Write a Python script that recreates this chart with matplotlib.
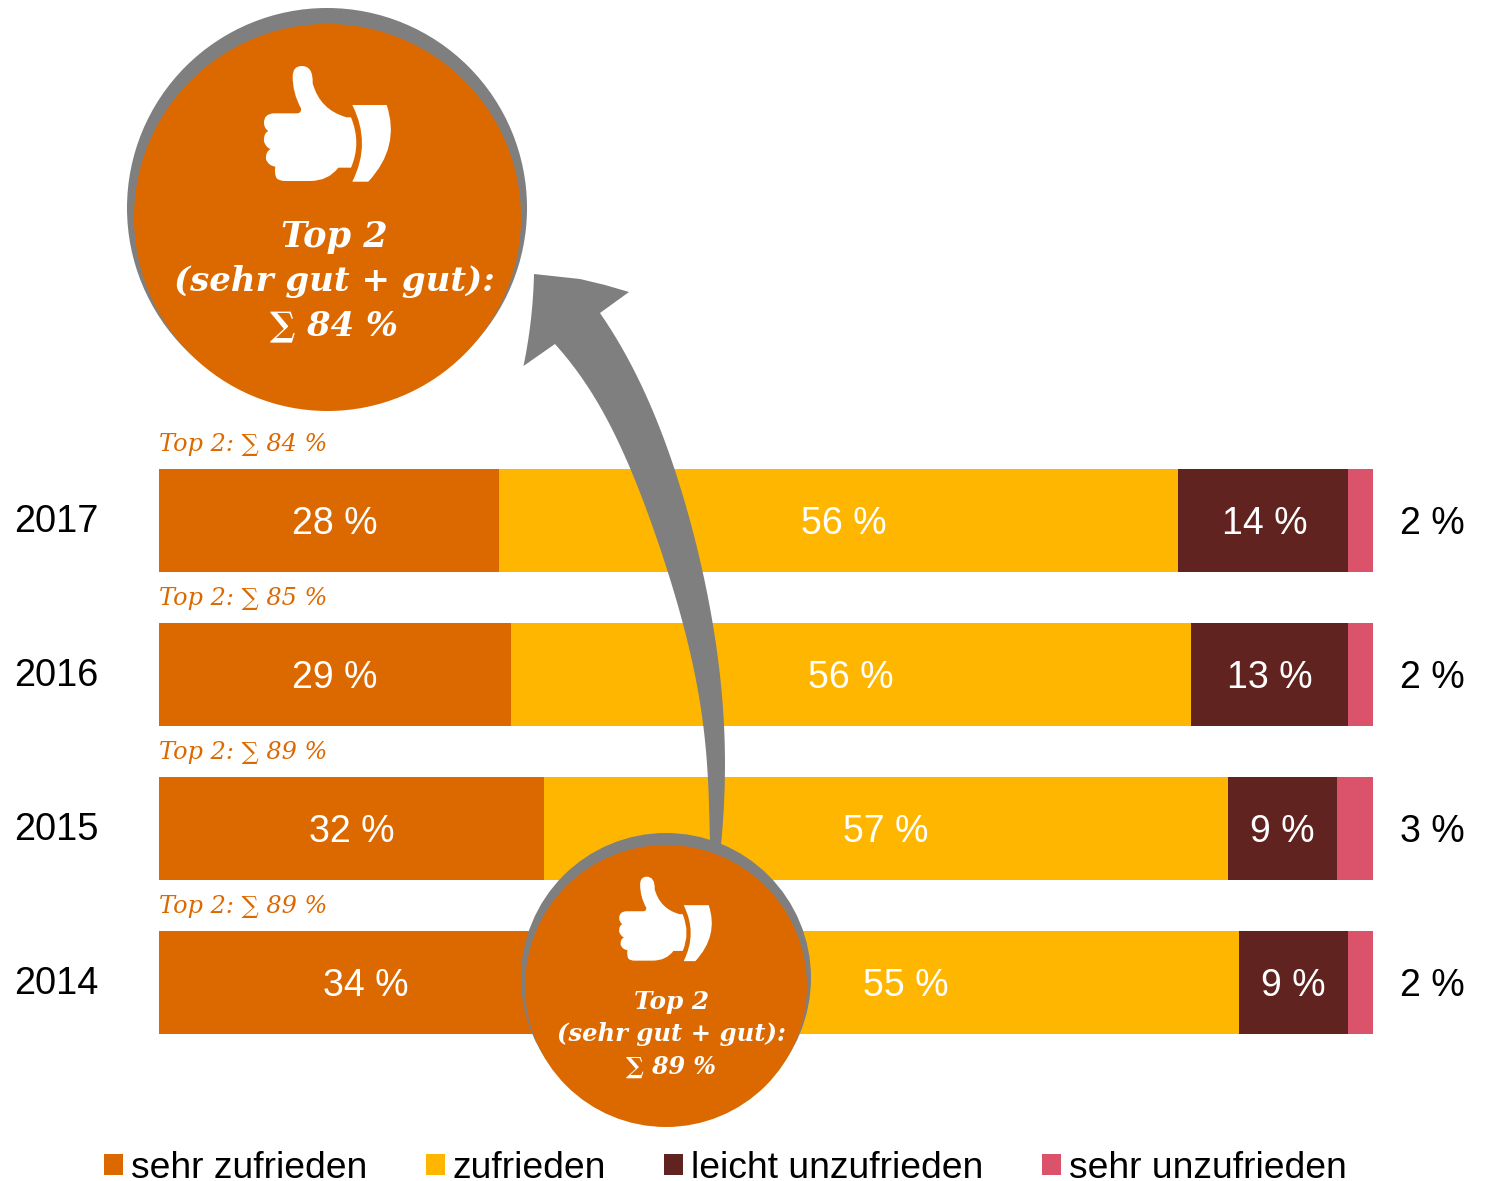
import matplotlib
matplotlib.use("Agg")
import matplotlib.pyplot as plt
import matplotlib.transforms as mtrans
import numpy as np
from matplotlib.patches import Circle, PathPatch, Polygon
from matplotlib.path import Path

W, H = 1488, 1181

years = ["2017", "2016", "2015", "2014"]
categories = ["sehr zufrieden", "zufrieden", "leicht unzufrieden", "sehr unzufrieden"]
sehr_zufrieden = [28, 29, 32, 34]
zufrieden = [56, 56, 57, 55]
leicht_unzufrieden = [14, 13, 9, 9]
sehr_unzufrieden = [2, 2, 3, 2]
top2 = [84, 85, 89, 89]
colors = ["#DC6900", "#FFB600", "#602320", "#DB536A"]
GRAY = "#7F7F7F"
ORANGE = "#DC6900"

SANS = ["Liberation Sans", "DejaVu Sans"]
SERIF = ["DejaVu Serif"]
M, C, L = Path.MOVETO, Path.CURVE3, Path.LINETO
PT = 0.72  # points per pixel at dpi 100

# small shifts of the value labels, in pixels, rows follow the years
nudge = [[6, 5, 1], [-1, 0, 0], [0, 0, 0], [0, 0, 0]]


def hand_paths():
    # thumb and cuff outlines, in pixels of the big circle
    thumb = [
        (M, 545, 198), (C, 518, 198), (C, 518, 230), (C, 518, 280), (C, 543, 325),
        (C, 545, 340), (C, 530, 340), (L, 460, 340), (C, 432, 342), (C, 432, 368),
        (C, 432, 385), (C, 445, 393), (C, 430, 400), (C, 432, 425), (C, 440, 445),
        (C, 452, 447), (C, 436, 455), (C, 438, 478), (C, 445, 497), (C, 466, 500),
        (C, 462, 520), (C, 470, 535), (C, 478, 543), (C, 495, 543), (L, 570, 543),
        (C, 625, 543), (C, 655, 503), (L, 693, 503), (C, 725, 430), (C, 693, 352),
        (L, 680, 352), (C, 600, 330), (C, 578, 250), (C, 580, 198), (C, 545, 198),
    ]
    cuff = [
        (M, 697, 315), (L, 800, 315), (C, 842, 440), (C, 745, 545), (L, 697, 545),
        (C, 755, 430), (C, 697, 315),
    ]
    out = []
    for shape in (thumb, cuff):
        codes = [s[0] for s in shape]
        pts = np.array([[120 + s[1] / 3, s[2] / 3] for s in shape])
        out.append((pts, codes))
    return out


def edge(points, y0, y1, deg=5):
    # smooth outline of one side of the arrow
    pts = np.array(points, dtype=float)
    fit = np.polynomial.Polynomial.fit(pts[:, 1], pts[:, 0], deg)
    ys = np.linspace(y0, y1, 60)
    return np.column_stack([fit(ys), ys])


def draw_badge(ax, gray_c, gray_r, c, r, value, scale, hand_at, sizes, text_ys, text_x):
    ax.add_patch(Circle(gray_c, gray_r, fc=GRAY, ec="none", zorder=5))
    ax.add_patch(Circle(c, r, fc=ORANGE, ec="none", zorder=6))
    for pts, codes in hand_paths():
        p = (pts - np.array([301.7, 66.0])) * scale + np.array(hand_at)
        ax.add_patch(PathPatch(Path(p, codes), fc="white", ec="none", zorder=7))
    lines = ["Top 2", "(sehr gut + gut):", f"∑ {value} %"]
    for line, y, s in zip(lines, text_ys, sizes):
        ax.text(text_x, y, line, color="white", fontsize=s, family=SERIF, style="italic",
                weight="bold", ha="center", va="center", zorder=8)


fig = plt.figure(figsize=(W / 100, H / 100), dpi=100)
ax = fig.add_axes([159.4 / W, 1 - 1059.5 / H, 1213.2 / W, 616 / H])

data = np.array([sehr_zufrieden, zufrieden, leicht_unzufrieden, sehr_unzufrieden], dtype=float)
shares = data / data.sum(axis=0)
ypos = np.arange(len(years))
left = np.zeros(len(years))
for k, name in enumerate(categories):
    ax.barh(ypos, shares[k], left=left, height=103 / 154, color=colors[k], label=name)
    for i in ypos:
        if k < 3:
            ax.annotate(f"{int(data[k][i])} %", (left[i] + shares[k][i] / 2, i),
                        xytext=(nudge[i][k] * PT, -3.5 * PT),
                        textcoords="offset points", ha="center", va="center",
                        color="white", fontsize=27, family=SANS)
        else:
            ax.annotate(f"{int(data[k][i])} %", (1, i), xytext=(59.5 * PT, -3.5 * PT),
                        textcoords="offset points", ha="center", va="center",
                        color="black", fontsize=27, family=SANS)
    left += shares[k]

for i in ypos:
    ax.annotate(f"Top 2: ∑ {top2[i]} %", (0, i), xytext=(0, 75.5 * PT), textcoords="offset points",
                ha="left", va="center", color=ORANGE, fontsize=17.3, family=SERIF, style="italic")

ax.set_xlim(0, 1)
ax.set_ylim(3.5, -0.5)
ax.set_xticks([])
ax.set_yticks(ypos, years, fontsize=27.4, family=SANS)
ax.tick_params(axis="y", length=0, pad=44)
lift = mtrans.ScaledTranslation(0, 2 / 100, fig.dpi_scale_trans)
for lab in ax.get_yticklabels():
    lab.set_transform(lab.get_transform() + lift)
for s in ax.spines.values():
    s.set_visible(False)

handles, labels = ax.get_legend_handles_labels()
fig.legend(handles, labels, ncol=4, frameon=False, loc="lower left",
           bbox_to_anchor=(104 / W, 1 - 1186 / H), prop={"family": SANS, "size": 26.85},
           borderpad=0, borderaxespad=0, handlelength=0.51, handleheight=0.5,
           handletextpad=0.21, columnspacing=1.57)

# overlay in pixel coordinates for the arrow and the two badges
over = fig.add_axes([0, 0, 1, 1])
over.set_xlim(0, W)
over.set_ylim(H, 0)
over.axis("off")

right_edge = [(721, 845), (725, 763), (724, 725), (712, 620), (703, 572), (683, 498), (675, 469),
              (648, 400), (645, 393), (600, 313)]
left_edge = [(555, 344), (595, 400), (605, 413), (630, 469), (642, 498), (668, 572), (682, 620),
             (703, 725), (708, 777), (710, 845)]
head_right = [(629, 292), (605, 285), (580, 279), (534, 274)]
head_left = [(534, 274), (530, 327), (523.5, 366)]
outline = np.vstack([edge(right_edge, 845, 313), head_right,
                     edge(head_left, 274, 366, deg=2), edge(left_edge, 344, 845)])
over.add_patch(Polygon(outline, closed=True, fc=GRAY, ec="none", zorder=4))

draw_badge(over, (327, 208), 200, (327.5, 217.5), 193.5, 84, 1.0, (301.7, 66),
           [25.3, 24.5, 24.3], [237, 282, 326], 334)
draw_badge(over, (666, 978), 145, (666, 986), 141, 89, 0.73, (646.7, 876.7),
           [17.8, 17.5, 17.1], [1002, 1034, 1067], 671.5)

fig.savefig("out.png", dpi=100)
